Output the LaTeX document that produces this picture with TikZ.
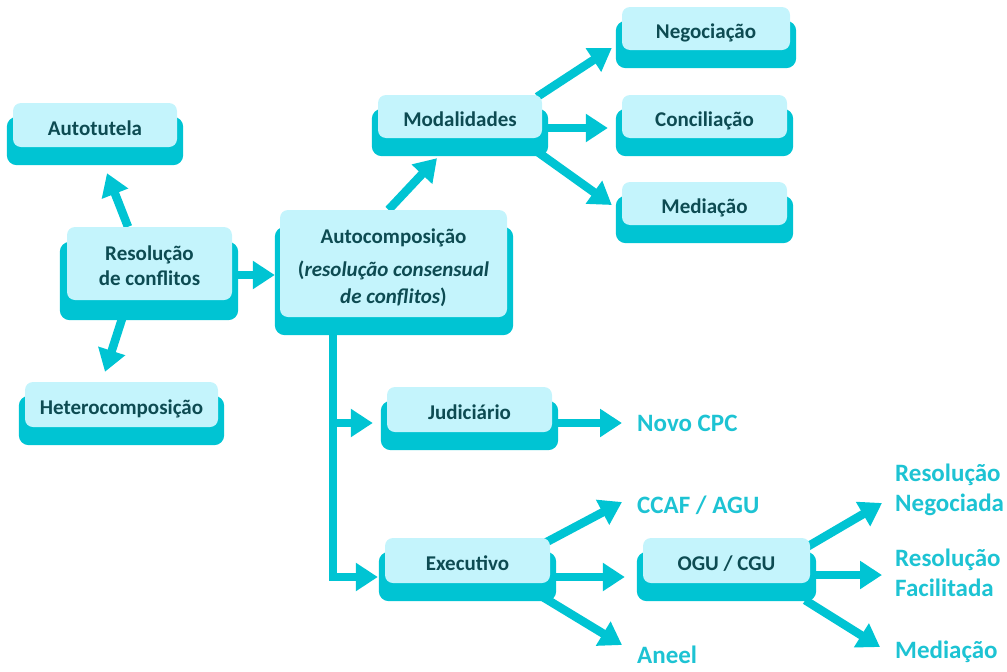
\documentclass[tikz,border=0pt]{standalone}
\usepackage{fontspec}
\setmainfont{Carlito}
\usetikzlibrary{arrows.meta,calc,backgrounds}
\definecolor{dk}{HTML}{00C4D3}
\definecolor{lt}{HTML}{C4F4FC}
\definecolor{tx}{HTML}{0D4B52}
\definecolor{ot}{HTML}{1DC3D3}
\tikzset{
 lbox/.style={fill=lt, rounded corners=8pt, text=tx, font=\fontsize{21}{25}\selectfont\bfseries, align=center, inner sep=0pt},
 onel/.style={text height=24pt, text depth=4pt},
 dbox/.style={fill=dk, rounded corners=10pt},
 arr/.style={draw=dk, line width=8.5pt, -{Triangle[length=22pt,width=27pt]}},
 otext/.style={text=ot, font=\fontsize{25}{30}\selectfont\bfseries, align=left, inner sep=0pt, anchor=west},
}
\begin{document}
\begin{tikzpicture}[x=1pt,y=-1pt]
\useasboundingbox (0,0) rectangle (1007,672);
% light boxes
\node[lbox, onel, minimum width=164pt, minimum height=44pt] (autot) at (95,125) {Autotutela};
\node[lbox, minimum width=165pt, minimum height=73pt] (res) at (149.5,263.5) {\rule{0pt}{20pt}Resolução\\de conflitos};
\node[lbox, onel, minimum width=193pt, minimum height=45pt] (het) at (121.5,404.5) {Heterocomposição};
\node[lbox, font=\fontsize{21}{27}\selectfont\bfseries, minimum width=227pt, minimum height=107pt] (autoc) at (393.5,263.5) {\rule{0pt}{24pt}Autocomposição\\[6pt](\textit{resolução consensual}\\\textit{de conflitos})};
\node[lbox, onel, minimum width=164pt, minimum height=43pt] (modal) at (460,116.5) {Modalidades};
\node[lbox, onel, minimum width=168pt, minimum height=43pt] (nego) at (706,28.5) {Negociação};
\node[lbox, onel, minimum width=165pt, minimum height=43pt] (conc) at (704.5,116.5) {Conciliação};
\node[lbox, onel, minimum width=165pt, minimum height=43pt] (med) at (704.5,203.5) {Mediação};
\node[lbox, onel, minimum width=165pt, minimum height=45pt] (judi) at (469.5,409.5) {Judiciário};
\node[lbox, onel, minimum width=165pt, minimum height=45pt] (exec) at (467.5,560.5) {Executivo};
\node[lbox, onel, minimum width=167pt, minimum height=45pt] (ogu) at (726.5,560.5) {OGU / CGU};
% outside texts
\node[otext] (novo) at (637,423) {Novo CPC};
\node[otext] (ccaf) at (637,505) {CCAF / AGU};
\node[otext] (aneel) at (637,655) {Aneel};
\node[otext] (resneg) at (895,490) {Resolução\\Negociada};
\node[otext] (resfac) at (895,572.5) {Resolução\\Facilitada};
\node[otext] (med2) at (895,652) {Mediação};
\begin{scope}[on background layer]
% connectors
\draw[arr] ($(res.north)+(-21.5,0)$) -- ($(autot.south)+(12,26)$);
\draw[arr] ($(res.south)+(-21.5,0)$) -- ($(het.north)+(-16.5,-10)$);
\draw[arr] ($(res.east)+(0,11.5)$) -- ($(autoc.west)+(-5,11.5)$);
\draw[arr] ($(autoc.north)+(-5,0)$) -- ($(modal.south)+(-23,20)$);
\draw[arr] ($(modal.north east)+(-5,2)$) -- ($(nego.west)+(-10,19.5)$);
\draw[arr] ($(modal.east)+(0,11.5)$) -- ($(conc.west)+(-14,11.5)$);
\draw[arr] ($(modal.south east)+(-7,12)$) -- ($(med.west)+(-10,1.5)$);
\draw[arr] ($(autoc.south)+(-60.5,0)$) |- ($(judi.west)+(-14,13.5)$);
\draw[arr] ($(autoc.south)+(-60.5,0)$) |- ($(exec.west)+(-7,16.5)$);
\draw[arr] ($(judi.east)+(0,13.5)$) -- ($(novo.west)+(-15,0)$);
\draw[arr] ($(exec.north east)+(-5,5)$) -- ($(ccaf.west)+(-15,-3)$);
\draw[arr] ($(exec.east)+(0,16.5)$) -- ($(ogu.west)+(-18,16.5)$);
\draw[arr] ($(exec.south east)+(-7,14)$) -- ($(aneel.west)+(-15,-10)$);
\draw[arr] ($(ogu.north east)+(-3,9)$) -- ($(resneg.west)+(-13,13)$);
\draw[arr] ($(ogu.east)+(0,14.5)$) -- ($(resfac.west)+(-13,2.5)$);
\draw[arr] ($(ogu.south east)+(-5,17)$) -- ($(med2.west)+(-15,-5)$);
% dark under-boxes
\foreach \n in {autot,het,modal,nego,conc,med,judi,exec,ogu}{
  \fill[dbox] ($(\n.north west)+(-6,14)$) rectangle ($(\n.south east)+(6,18)$);
}
\fill[dbox] ($(res.north west)+(-7,15)$) rectangle ($(res.south east)+(6,20)$);
\fill[dbox] ($(autoc.north west)+(-5,17)$) rectangle ($(autoc.south east)+(6,18)$);
\end{scope}
\end{tikzpicture}
\end{document}
